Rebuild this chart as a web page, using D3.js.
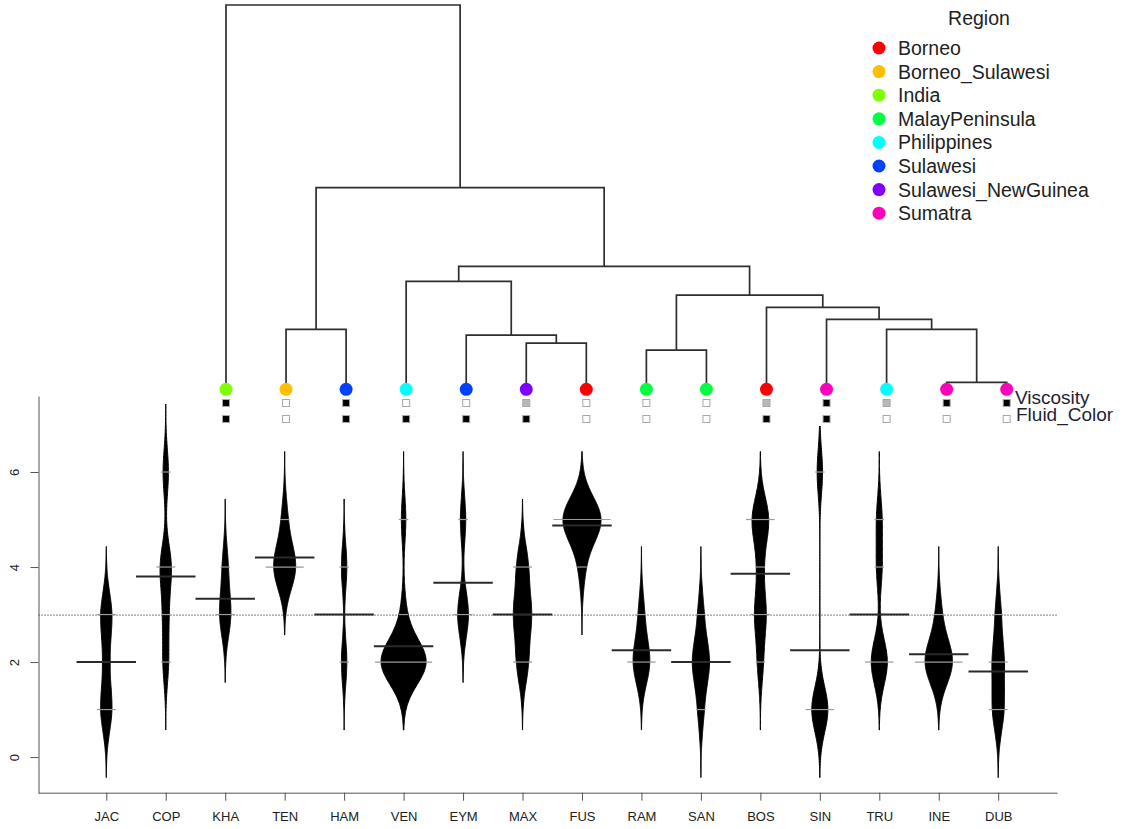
<!DOCTYPE html>
<meta charset="utf-8">
<style>
body { margin: 0; background: #fff; }
svg { font-family: "Liberation Sans", Arial, sans-serif; }
</style>
<svg width="1123" height="829"></svg>
<script src="https://d3js.org/d3.v7.min.js"></script>
<script>

// beans: counts of observations at each level
var beanNames = ["JAC","COP","KHA","TEN","HAM","VEN","EYM","MAX","FUS","RAM","SAN","BOS","SIN","TRU","INE","DUB"];
var levels = [1, 2, 3, 4, 5, 6];
var beanCounts = [
  [2, 1, 2, 0, 0, 0],   // JAC
  [0, 1, 1, 2, 0, 1],   // COP
  [0, 0, 2, 1, 0, 0],   // KHA
  [0, 0, 0, 4, 1, 0],   // TEN
  [0, 1, 0, 1, 0, 0],   // HAM
  [0, 10, 1, 0, 1, 0],  // VEN
  [0, 0, 2, 0, 1, 0],   // EYM
  [0, 2, 3, 2, 0, 0],   // MAX
  [0, 0, 0, 1, 7, 0],   // FUS
  [0, 3, 1, 0, 0, 0],   // RAM
  [1, 3, 1, 0, 0, 0],   // SAN
  [0, 1, 2, 1, 3, 0],   // BOS
  [3, 0, 0, 0, 0, 1],   // SIN
  [0, 3, 0, 1, 1, 0],   // TRU
  [0, 5, 1, 0, 0, 0],   // INE
  [2, 2, 1, 0, 0, 0]    // DUB
];
var yTicks = [0, 2, 4, 6];

// dendrogram (hclust style merges, negative = leaf)
var regionNames = ["Borneo","Borneo_Sulawesi","India","MalayPeninsula","Philippines","Sulawesi","Sulawesi_NewGuinea","Sumatra"];
var regionColors = ["#FF0000","#FFBF00","#80FF00","#00FF40","#00FFFF","#0040FF","#8000FF","#FF00BF"];
var leafRegion = ["India","Borneo_Sulawesi","Sulawesi","Philippines","Sulawesi","Sulawesi_NewGuinea","Borneo",
                  "MalayPeninsula","MalayPeninsula","Borneo","Sumatra","Philippines","Sumatra","Sumatra"];
var leafViscosity = ["black","white","black","white","white","gray","white","white","white","gray","black","gray","black","black"];
var leafFluid = ["black","white","black","black","black","black","white","white","white","black","black","white","white","white"];
var mergePairs = [[-13,-14],[-8,-9],[-6,-7],[-5,3],[-2,-3],[-12,1],[-11,6],[-10,7],[2,8],[-4,4],[10,9],[5,11],[-1,12]];
var mergeHeights = [0.018, 0.102, 0.120, 0.141, 0.156, 0.156, 0.182, 0.213, 0.245, 0.281, 0.320, 0.525, 1.0];

var svg = d3.select("svg");

var x = d3.scaleLinear().domain([-0.14, 17.14]).range([38.5, 1066]);
var y = d3.scaleLinear().domain([-0.75, 7.6]).range([792.7, 396]);
var xLeft = x(-0.14), xRight = x(17);

// kernel density per bean
var bw = 0.477;
function gauss(u) { return Math.exp(-0.5 * u * u) / Math.sqrt(2 * Math.PI); }

var beans = beanNames.map(function(name, i) {
  var pts = [];
  beanCounts[i].forEach(function(c, j) { if (c > 0) pts.push({v: levels[j], c: c}); });
  var n = d3.sum(pts, function(p) { return p.c; });
  var lo = d3.min(pts, function(p) { return p.v; }) - 3 * bw;
  var hi = d3.max(pts, function(p) { return p.v; }) + 3 * bw;
  var dens = d3.range(0, 241).map(function(k) {
    var v = lo + (hi - lo) * k / 240;
    return [v, d3.sum(pts, function(p) { return p.c * gauss((v - p.v) / bw); }) / (bw * n)];
  });
  var mean = d3.sum(pts, function(p) { return p.v * p.c; }) / n;
  return {name: name, pos: i + 1, pts: pts, n: n, dens: dens, mean: mean};
});

var maxDens = d3.max(beans, function(b) { return d3.max(b.dens, function(d) { return d[1]; }); });
var wd = 0.8 / maxDens;

// overall mean line
var allN = d3.sum(beans, function(b) { return b.n; });
var allMean = d3.sum(beans, function(b) { return b.mean * b.n; }) / allN;

svg.append("line")
    .attr("x1", xLeft).attr("x2", xRight)
    .attr("y1", y(allMean)).attr("y2", y(allMean))
    .attr("stroke", "#000").attr("stroke-width", 1)
    .attr("stroke-dasharray", "1,2");

var bean = svg.append("g").selectAll("g")
    .data(beans).enter().append("g");

bean.append("path")
    .attr("d", function(b) {
      var grow = Math.min(1, b.n / 10);
      return d3.area()
        .y(function(d) { return y(d[0]); })
        .x0(function(d) { return x(b.pos - d[1] * wd / 2 * grow); })
        .x1(function(d) { return x(b.pos + d[1] * wd / 2 * grow); })(b.dens);
    })
    .attr("fill", "#000")
    .attr("stroke", "#000")
    .attr("stroke-width", 1);

bean.selectAll(".bl")
    .data(function(b) { return b.pts.map(function(p) { return {pos: b.pos, v: p.v, c: p.c}; }); })
    .enter().append("line")
    .attr("x1", function(d) { return x(d.pos - Math.min(0.16 * d.c, 0.96) / 2); })
    .attr("x2", function(d) { return x(d.pos + Math.min(0.16 * d.c, 0.96) / 2); })
    .attr("y1", function(d) { return y(d.v); })
    .attr("y2", function(d) { return y(d.v); })
    .attr("stroke", "#9a9a9a")
    .attr("stroke-width", 1.2);

bean.append("line")
    .attr("x1", function(b) { return x(b.pos - 0.5); })
    .attr("x2", function(b) { return x(b.pos + 0.5); })
    .attr("y1", function(b) { return y(b.mean); })
    .attr("y2", function(b) { return y(b.mean); })
    .attr("stroke", "#2a2a2a")
    .attr("stroke-width", 2);

// axes
var yAxis = svg.append("g")
    .attr("transform", "translate(" + xLeft + ",0)")
    .call(d3.axisLeft(y).tickValues(yTicks).tickSize(8).tickSizeOuter(0));
yAxis.selectAll("text")
    .attr("x", null).attr("dy", "0.35em")
    .attr("text-anchor", "middle")
    .attr("transform", "translate(" + (14 - xLeft) + ",0) rotate(-90)");

var xAxis = svg.append("g")
    .attr("transform", "translate(0," + y(-0.75) + ")")
    .call(d3.axisBottom(x).tickValues(d3.range(1, 17))
      .tickFormat(function(p) { return beanNames[p - 1]; })
      .tickSize(8).tickPadding(11).tickSizeOuter(0));
xAxis.select(".domain").attr("d", "M" + xLeft + ",0.5H" + xRight);

svg.selectAll(".domain, .tick line").attr("stroke", "#555");
svg.selectAll(".tick text")
    .attr("fill", "#222")
    .style("font-family", "'Liberation Sans', Arial, sans-serif")
    .style("font-size", "13px");

// dendrogram panel sits on top with its own white background
svg.append("rect")
    .attr("x", 195).attr("y", 0).attr("width", 928).attr("height", 426)
    .attr("fill", "#fff");

function buildNode(k) {
  if (k < 0) return {leaf: -k - 1, h: 0};
  var m = mergePairs[k - 1];
  return {h: mergeHeights[k - 1], children: [buildNode(m[0]), buildNode(m[1])]};
}
var root = d3.hierarchy(buildNode(mergePairs.length));

var leafX = d3.scalePoint().domain(d3.range(leafRegion.length)).range([226, 1006.7]);
var hy = d3.scaleLinear().domain([0, 1]).range([389.3, 5]);
var regionColor = d3.scaleOrdinal().domain(regionNames).range(regionColors);

root.eachAfter(function(nd) {
  nd.x = nd.children ? d3.mean(nd.children, function(c) { return c.x; }) : leafX(nd.data.leaf);
});

svg.append("g").selectAll("path")
    .data(root.descendants().filter(function(nd) { return nd.children; }))
    .enter().append("path")
    .attr("d", function(nd) {
      var a = nd.children[0], b = nd.children[1];
      return "M" + a.x + "," + hy(a.data.h) + "V" + hy(nd.data.h) + "H" + b.x + "V" + hy(b.data.h);
    })
    .attr("fill", "none")
    .attr("stroke", "#2e2e2e")
    .attr("stroke-width", 1.7);

var leaves = root.leaves();
svg.append("g").selectAll("circle")
    .data(leaves).enter().append("circle")
    .attr("cx", function(nd) { return nd.x; })
    .attr("cy", hy(0))
    .attr("r", 6.5)
    .attr("fill", function(nd) { return regionColor(leafRegion[nd.data.leaf]); });

var sqFill = {black: "#000", gray: "#b8b8b8", white: "#fff"};
[[leafViscosity, 403], [leafFluid, 419]].forEach(function(row) {
  svg.append("g").selectAll("rect")
      .data(leaves).enter().append("rect")
      .attr("x", function(nd) { return nd.x - 3.5; })
      .attr("y", row[1] - 3.5)
      .attr("width", 7).attr("height", 7)
      .attr("fill", function(nd) { return sqFill[row[0][nd.data.leaf]]; })
      .attr("stroke", "#a8a8a8")
      .attr("stroke-width", 1);
});

svg.append("text").attr("x", 1015).attr("y", 404)
    .attr("font-size", 19).attr("fill", "#1f1f33").text("Viscosity");
svg.append("text").attr("x", 1016).attr("y", 420.5)
    .attr("font-size", 19).attr("fill", "#1f1f33").text("Fluid_Color");

// legend
var legend = svg.append("g");
legend.append("text")
    .attr("x", 979).attr("y", 25)
    .attr("text-anchor", "middle")
    .attr("font-size", 19.5).attr("fill", "#222")
    .text("Region");
var item = legend.selectAll("g")
    .data(regionNames).enter().append("g")
    .attr("transform", function(d, i) { return "translate(879," + (48 + 23.6 * i) + ")"; });
item.append("circle").attr("r", 6.5).attr("fill", function(d) { return regionColor(d); });
item.append("text")
    .attr("x", 19).attr("y", 7)
    .attr("font-size", 19.5).attr("fill", "#222")
    .text(function(d) { return d; });

</script>
